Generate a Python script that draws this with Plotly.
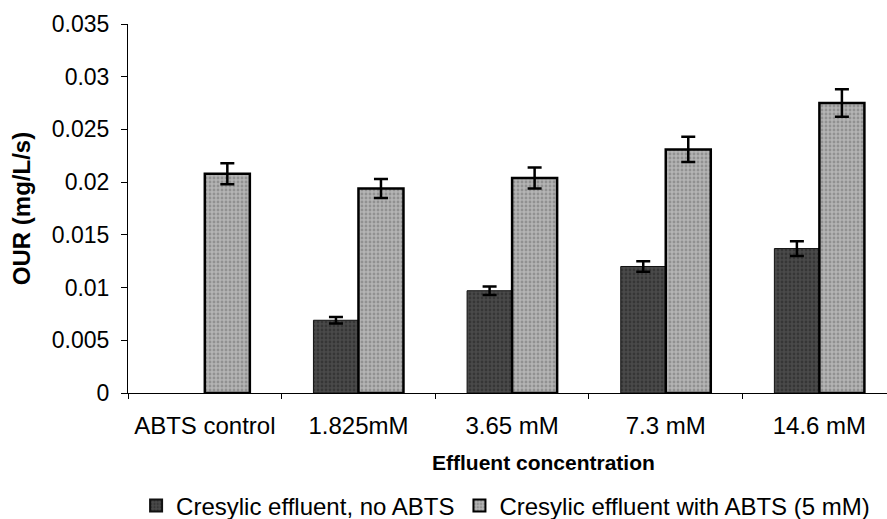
import plotly.graph_objects as go

categories = ["ABTS control", "1.825mM", "3.65 mM", "7.3 mM", "14.6 mM"]
no_abts = [None, 0.0069, 0.0097, 0.0120, 0.0137]
no_abts_err = [None, 0.0003, 0.0004, 0.0005, 0.0007]
with_abts = [0.0208, 0.0194, 0.0204, 0.0231, 0.0275]
with_abts_err = [0.0010, 0.0009, 0.0010, 0.0012, 0.0013]
ytick_vals = [0, 0.005, 0.01, 0.015, 0.02, 0.025, 0.03, 0.035]
ytick_text = ["0", "0.005", "0.01", "0.015", "0.02", "0.025", "0.03", "0.035"]

FONT = "Liberation Sans, Arial, sans-serif"

fig = go.Figure()
fig.add_trace(go.Bar(
    name="Cresylic effluent, no ABTS",
    x=categories, y=no_abts,
    marker=dict(color="#3d3d3d", line=dict(color="#111111", width=1),
                pattern=dict(shape=".", fgcolor="#222222", bgcolor="#4a4a4a", size=4, solidity=0.4)),
    error_y=dict(type="data", array=no_abts_err, visible=True, color="black", thickness=2.5, width=7),
))
fig.add_trace(go.Bar(
    name="Cresylic effluent with ABTS (5 mM)",
    x=categories, y=with_abts,
    marker=dict(color="#a0a0a0", line=dict(color="black", width=2.5),
                pattern=dict(shape=".", fgcolor="#6e6e6e", bgcolor="#b4b4b4", size=4, solidity=0.4)),
    error_y=dict(type="data", array=with_abts_err, visible=True, color="black", thickness=2.5, width=7),
))

fig.update_layout(
    width=887, height=519,
    margin=dict(l=128, r=0, t=24, b=126),
    paper_bgcolor="white", plot_bgcolor="white",
    barmode="group", bargap=0.414, bargroupgap=0,
    font=dict(family=FONT, size=20, color="black"),
    showlegend=True,
    legend=dict(orientation="h", xref="container", yref="container",
                x=0.57, xanchor="center", y=1 - 506 / 519, yanchor="middle",
                font=dict(size=24), itemwidth=30, traceorder="normal",
                tracegroupgap=0, itemsizing="constant"),
    xaxis=dict(range=[-0.5, 4.44], showline=True, linecolor="black", linewidth=1,
               ticks="outside", tickson="boundaries", ticklen=5, tickcolor="black",
               tickfont=dict(size=24), ticklabelstandoff=11, showgrid=False, zeroline=False),
    yaxis=dict(range=[0, 0.035], tickvals=ytick_vals, ticktext=ytick_text,
               showline=True, linecolor="black", linewidth=1,
               ticks="outside", ticklen=6, tickcolor="black",
               tickfont=dict(size=23), ticklabelstandoff=7, showgrid=False, zeroline=False,
               title=dict(text="<b>OUR (mg/L/s)</b>", font=dict(size=24), standoff=14)),
    annotations=[dict(text="<b>Effluent concentration</b>", xref="paper", yref="paper",
                      x=(543 - 128) / (887 - 128), y=-(463 - 393) / 369, xanchor="center", yanchor="middle",
                      showarrow=False, font=dict(size=21))],
)

fig.write_html("out.html")
